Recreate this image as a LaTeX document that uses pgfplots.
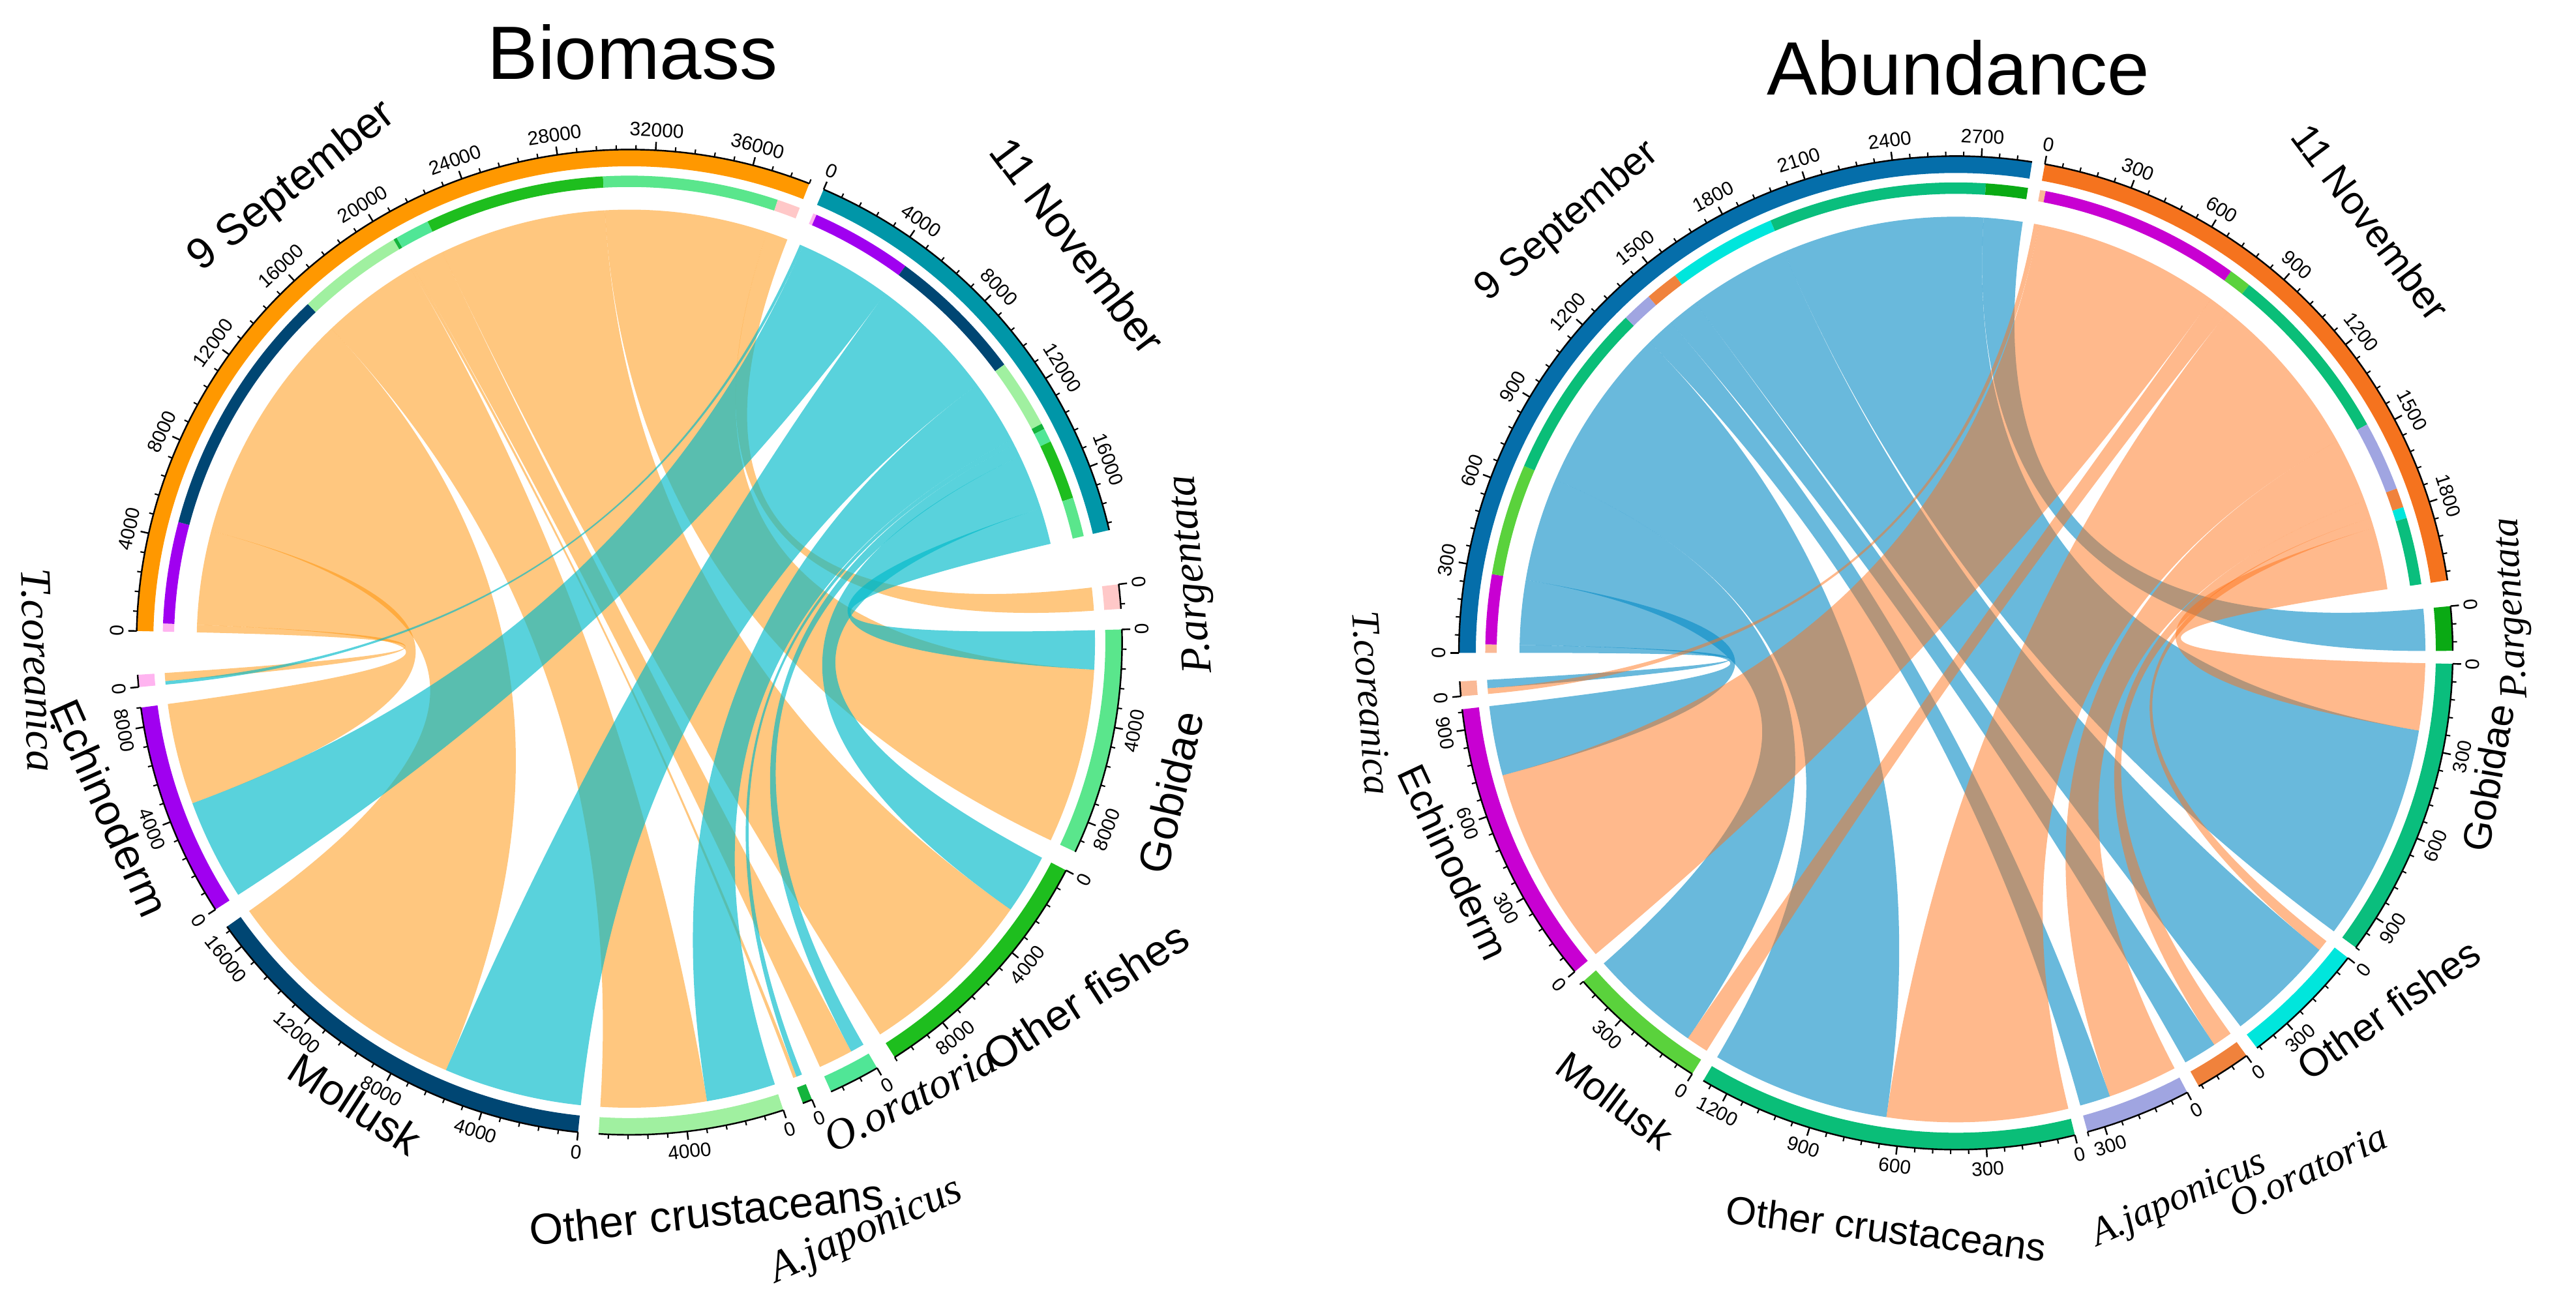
\documentclass[border=0pt]{standalone}
\usepackage{pgfplots}
\pgfplotsset{compat=1.18}
\usepackage{fontspec}
\setmainfont{Liberation Sans}
\newfontfamily\spit{Liberation Serif}

% ---------- colours : Biomass ----------
\definecolor{bSept}{RGB}{255,152,0}
\definecolor{bNov}{RGB}{0,150,168}
\definecolor{bSeptR}{RGB}{255,143,0}
\definecolor{bNovR}{RGB}{0,186,201}
\definecolor{b0}{RGB}{255,180,240}% T.coreanica
\definecolor{b1}{RGB}{160,0,240}%   Echinoderm
\definecolor{b2}{RGB}{0,70,115}%    Mollusk
\definecolor{b3}{RGB}{160,240,160}% Other crustaceans
\definecolor{b4}{RGB}{20,180,60}%   A.japonicus
\definecolor{b5}{RGB}{80,230,150}%  O.oratoria
\definecolor{b6}{RGB}{30,190,30}%   Other fishes
\definecolor{b7}{RGB}{90,230,140}%  Gobidae
\definecolor{b8}{RGB}{255,200,200}% P.argentata
% ---------- colours : Abundance ----------
\definecolor{aSept}{RGB}{5,110,170}
\definecolor{aNov}{RGB}{245,115,30}
\definecolor{aSeptR}{RGB}{5,138,197}
\definecolor{aNovR}{RGB}{255,115,25}
\definecolor{a0}{RGB}{250,185,150}
\definecolor{a1}{RGB}{200,0,210}
\definecolor{a2}{RGB}{90,210,60}
\definecolor{a3}{RGB}{10,190,120}
\definecolor{a4}{RGB}{160,165,225}
\definecolor{a5}{RGB}{240,130,60}
\definecolor{a6}{RGB}{0,230,220}
\definecolor{a7}{RGB}{10,190,125}
\definecolor{a8}{RGB}{10,170,20}

% ---------- geometry (units of outer radius) ----------
\def\cdrTo{1.0}
\def\cdrTi{0.966}
\def\cdrIo{0.947}
\def\cdrIi{0.924}
\def\cdrD{0.878}
\def\cdrDt{0.2927}
\def\cdrS{0.945}
\def\cdrSt{0.315}
\def\cdrMaj{1.017}
\def\cdrMinT{1.009}
\def\cdrLab{1.022}

\newcommand\cdRibbon[2]{%
  \fill[fill=#1, fill opacity=#2] (\cda:\cdrD) arc[start angle=\cda, end angle=\cdb, radius=\cdrD]
     .. controls (\cdb:\cdrDt) and (\cdc:\cdrSt) .. (\cdc:\cdrS)
     arc[start angle=\cdc, end angle=\cdd, radius=\cdrS]
     .. controls (\cdd:\cdrSt) and (\cda:\cdrDt) .. cycle;}
\newcommand\cdInner[1]{%
  \fill[fill=#1] (\cda:\cdrIo) arc[start angle=\cda, end angle=\cdb, radius=\cdrIo]
     -- (\cdb:\cdrIi) arc[start angle=\cdb, end angle=\cda, radius=\cdrIi] -- cycle;}

\newcommand\cdTrack[4]{%
  \pgfmathsetmacro\cdtS{#1}%
  \pgfmathsetmacro\cdtT{#2}%
  \pgfmathsetmacro\cdtE{\cdtS-\cdsc*\cdtT}%
  \fill[fill=#3] (\cdtS:\cdrTo) arc[start angle=\cdtS, end angle=\cdtE, radius=\cdrTo]
     -- (\cdtE:\cdrTi) arc[start angle=\cdtE, end angle=\cdtS, radius=\cdrTi] -- cycle;
  \draw[line width=0.35pt] (\cdtS:\cdrTo) arc[start angle=\cdtS, end angle=\cdtE, radius=\cdrTo];
  \pgfmathtruncatemacro\cdnt{floor(\cdtT/\cdMin+0.001)}%
  \foreach \k in {0,...,\cdnt}{%
    \pgfmathsetmacro\cdth{\cdtS-\cdsc*\k*\cdMin}%
    \pgfmathtruncatemacro\cdmd{mod(\k,5)}%
    \ifnum\cdmd=0
      \draw[line width=0.35pt] (\cdth:\cdrTo) -- (\cdth:\cdrMaj);
      \ifnum#4=0
        \pgfmathsetmacro\cdrot{\cdth-90}%
        \node[font=\cdTickFont, rotate=\cdrot, anchor=south, inner sep=0.3pt] at (\cdth:\cdrLab) {\the\numexpr\k*\cdMinRaw\relax};
      \else
        \pgfmathsetmacro\cdrot{\cdth+90}%
        \node[font=\cdTickFont, rotate=\cdrot, anchor=north, inner sep=0.3pt] at (\cdth:\cdrLab) {\the\numexpr\k*\cdMinRaw\relax};
      \fi
    \else
      \draw[line width=0.3pt] (\cdth:\cdrTo) -- (\cdth:\cdrMinT);
    \fi
  }%
}

\newcommand\ChordDiagram{%
  \gdef\cdSt{0}\gdef\cdNt{0}%
  \foreach \i in {0,...,8}{%
    \pgfmathsetmacro\cdtmp{\cdSt+\cdSV[\i]/\cdU}\global\let\cdSt\cdtmp
    \pgfmathsetmacro\cdtmp{\cdNt+\cdNV[\i]/\cdU}\global\let\cdNt\cdtmp
  }%
  \pgfmathsetmacro\cdtmp{(360-\cdgd-8*\cdgs-\cdgbA-\cdgbB)/(2*(\cdSt+\cdNt))}\global\let\cdsc\cdtmp
  \pgfmathsetmacro\cdtmp{\cdStart}\global\let\cdaS\cdtmp
  \pgfmathsetmacro\cdtmp{\cdaS-\cdsc*\cdSt-\cdgd}\global\let\cdaN\cdtmp
  \pgfmathsetmacro\cdtmp{\cdaN-\cdsc*\cdNt-\cdgbA}\global\let\cdcur\cdtmp
  \foreach \i in {8,7,...,0}{%
    \pgfmathsetmacro\cdtot{\cdSV[\i]/\cdU+\cdNV[\i]/\cdU}%
    \expandafter\xdef\csname cdspS\i\endcsname{\cdcur}%
    \expandafter\xdef\csname cdspT\i\endcsname{\cdtot}%
    \pgfmathsetmacro\cdtmp{\cdcur-\cdsc*\cdtot-\cdgs}\global\let\cdcur\cdtmp
  }%
  % links of the first date
  \gdef\cdcum{0}%
  \foreach \i in {0,...,8}{%
    \pgfmathsetmacro\cdv{\cdSV[\i]/\cdU}%
    \pgfmathsetmacro\cdnv{\cdNV[\i]/\cdU}%
    \pgfmathtruncatemacro\cdpos{\cdv>0}%
    \ifnum\cdpos=1
      \pgfmathsetmacro\cda{\cdaS-\cdsc*\cdcum}%
      \pgfmathsetmacro\cdb{\cdaS-\cdsc*(\cdcum+\cdv)}%
      \pgfmathsetmacro\cdc{\csname cdspS\i\endcsname-\cdsc*\cdnv}%
      \pgfmathsetmacro\cdd{\csname cdspS\i\endcsname-\cdsc*(\cdnv+\cdv)}%
      \cdRibbon{\cdSR}{\cdOpS}%
      \cdInner{\cdP\i}%
    \fi
    \pgfmathsetmacro\cdtmp{\cdcum+\cdv}\global\let\cdcum\cdtmp
  }%
  % links of the second date
  \gdef\cdcum{0}%
  \foreach \i in {0,...,8}{%
    \pgfmathsetmacro\cdnv{\cdNV[\i]/\cdU}%
    \pgfmathtruncatemacro\cdpos{\cdnv>0}%
    \ifnum\cdpos=1
      \pgfmathsetmacro\cda{\cdaN-\cdsc*\cdcum}%
      \pgfmathsetmacro\cdb{\cdaN-\cdsc*(\cdcum+\cdnv)}%
      \pgfmathsetmacro\cdc{\csname cdspS\i\endcsname}%
      \pgfmathsetmacro\cdd{\csname cdspS\i\endcsname-\cdsc*\cdnv}%
      \cdRibbon{\cdNR}{\cdOpN}%
      \cdInner{\cdP\i}%
    \fi
    \pgfmathsetmacro\cdtmp{\cdcum+\cdnv}\global\let\cdcum\cdtmp
  }%
  \cdTrack{\cdaS}{\cdSt}{\cdCS}{0}%
  \cdTrack{\cdaN}{\cdNt}{\cdCN}{0}%
  \foreach \i in {0,...,8}{%
    \cdTrack{\csname cdspS\i\endcsname}{\csname cdspT\i\endcsname}{\cdP\i}{1}%
  }%
}

\begin{document}
\begin{tikzpicture}
\begin{axis}[scale only axis, width=20cm, height=10.0101cm,
  xmin=0, xmax=20, ymin=0, ymax=10.0101, hide axis, clip=false]

\coordinate (BL) at (axis cs:0,0);
\coordinate (TR) at (axis cs:20,10.0101);

\node[anchor=base, font=\fontsize{16.7}{20}\selectfont] at (axis cs:4.912,9.397) {Biomass};
\node[anchor=base, font=\fontsize{16.7}{20}\selectfont] at (axis cs:15.204,9.271) {Abundance};

% ================= Biomass =================
% order: T.coreanica, Echinoderm, Mollusk, Other crustaceans, A.japonicus,
%        O.oratoria, Other fishes, Gobidae, P.argentata
\pgfplotsextra{%
  \def\cdSV{{350,4400,11000,4600,150,1500,7800,7600,1000}}% 9 September
  \def\cdNV{{150,4400,6000,3000,250,600,2600,1700,0}}%     11 November
  \def\cdU{1000}\def\cdMinRaw{800}\def\cdMin{0.8}%
  \def\cdStart{178.7}\def\cdgd{1.8}\def\cdgs{2.4}\def\cdgbA{6.4}\def\cdgbB{5.1}%
  \def\cdP{b}\def\cdCS{bSept}\def\cdCN{bNov}\def\cdSR{bSeptR}\def\cdNR{bNovR}%
  \def\cdOpS{0.5}\def\cdOpN{0.65}%
  \def\cdTickFont{\fontsize{4.3}{5}\selectfont}%
  \def\nm{\fontsize{9.6}{11}\selectfont}%
  \def\nmi{\fontsize{9.6}{11}\selectfont\spit\itshape}%
  \begin{scope}[shift={(axis cs:4.886,5.023)}, scale=3.826]
    \ChordDiagram
    \node[font=\nm, rotate=38] at (126.5:1.15) {9 September};
    \node[font=\nm, rotate=-53] at (41.5:1.215) {11 November};
    \node[font=\nmi, rotate=95] at (6.9:1.152) {P.argentata};
    \node[font=\nm, rotate=77] at (-15.5:1.14) {Gobidae};
    \node[font=\nm, rotate=33] at (-37.8:1.172) {Other fishes};
    \node[font=\nmi, rotate=27] at (-58.4:1.088) {O.oratoria};
    \node[font=\nmi, rotate=24] at (-68.1:1.29) {A.japonicus};
    \node[font=\nm, rotate=6] at (-82.3:1.167) {Other crustaceans};
    \node[font=\nm, rotate=-33] at (-120.7:1.09) {Mollusk};
    \node[font=\nm, rotate=-66] at (-162.3:1.107) {Echinoderm};
    \node[font=\nmi, rotate=-88] at (182.7:1.2) {T.coreanica};
  \end{scope}
}

% ================= Abundance =================
\pgfplotsextra{%
  \def\cdSV{{30,250,400,640,110,120,390,780,150}}% 9 September
  \def\cdNV{{20,720,80,650,250,70,40,240,0}}%      11 November
  \def\cdU{100}\def\cdMinRaw{60}\def\cdMin{0.6}%
  \def\cdStart{180.0}\def\cdgd{1.5}\def\cdgs{1.5}\def\cdgbA{3.0}\def\cdgbB{3.3}%
  \def\cdP{a}\def\cdCS{aSept}\def\cdCN{aNov}\def\cdSR{aSeptR}\def\cdNR{aNovR}%
  \def\cdOpS{0.6}\def\cdOpN{0.5}%
  \def\cdTickFont{\fontsize{4.3}{5}\selectfont}%
  \def\nm{\fontsize{8.7}{10}\selectfont}%
  \def\nmi{\fontsize{8.7}{10}\selectfont\spit\itshape}%
  \begin{scope}[shift={(axis cs:15.185,4.940)}, scale=3.858]
    \ChordDiagram
    \node[font=\nm, rotate=40] at (132:1.168) {9 September};
    \node[font=\nm, rotate=-53] at (46.1:1.204) {11 November};
    \node[font=\nmi, rotate=93] at (4.6:1.125) {P.argentata};
    \node[font=\nm, rotate=80] at (-13.2:1.10) {Gobidae};
    \node[font=\nm, rotate=35] at (-39.5:1.128) {Other fishes};
    \node[font=\nmi, rotate=25] at (-55.8:1.26) {O.oratoria};
    \node[font=\nmi, rotate=24] at (-67.8:1.19) {A.japonicus};
    \node[font=\nm, rotate=-7] at (-96.9:1.167) {Other crustaceans};
    \node[font=\nm, rotate=-37] at (-127.3:1.132) {Mollusk};
    \node[font=\nm, rotate=-65] at (-157.4:1.095) {Echinoderm};
    \node[font=\nmi, rotate=-86] at (-175.1:1.18) {T.coreanica};
  \end{scope}
}
\end{axis}
\pgfresetboundingbox
\path[use as bounding box] (BL) rectangle (TR);
\end{tikzpicture}
\end{document}
